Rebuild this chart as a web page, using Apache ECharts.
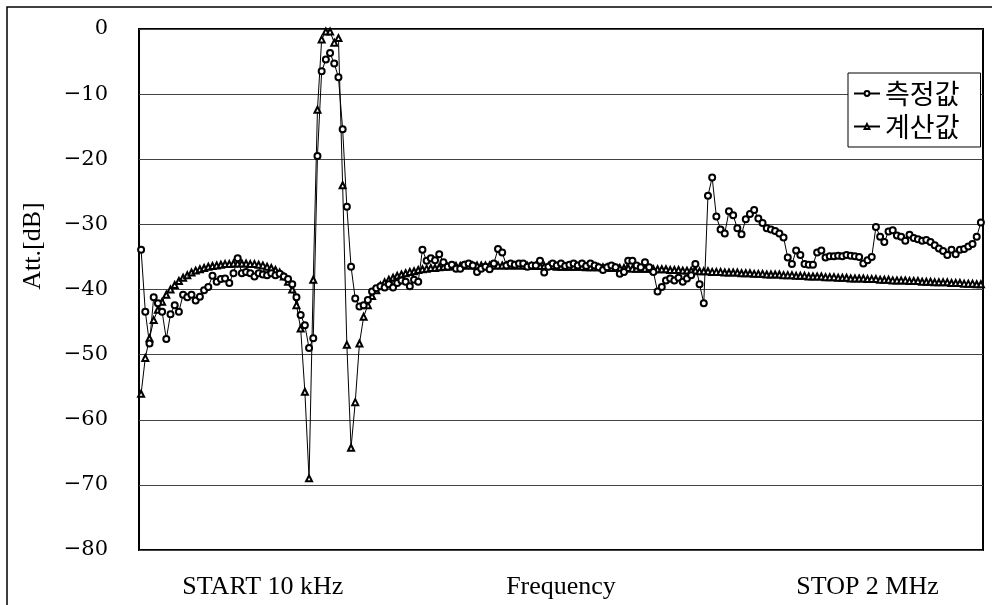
<!DOCTYPE html>
<html>
<head>
<meta charset="utf-8">
<script src="https://cdn.jsdelivr.net/npm/echarts@6/dist/echarts.min.js"></script>
<style>
  html, body { margin: 0; padding: 0; background: #fff; }
  #chart { width: 992px; height: 605px; }
</style>
</head>
<body>
<div id="chart"></div>
<script>
// 201 sweep points, 10 kHz .. 2 MHz
const pointCount = 201
const xLabels = { 29: 'START 10 kHz', 100: 'Frequency', 173: 'STOP 2 MHz' }
const yTicks = [0, -10, -20, -30, -40, -50, -60, -70, -80]
const seriesNames = ['측정값', '계산값']
const yName = 'Att.[dB]'

// 측정값 (measured), dB
const measured = [
  -33.9, -43.4, -48.3, -41.2, -42.1, -43.4, -47.6, -43.8, -42.4, -43.4,
  -40.8, -41.2, -40.8, -41.7, -41.1, -40.1, -39.6, -37.9, -38.8, -38.4,
  -38.3, -39.0, -37.5, -35.2, -37.5, -37.3, -37.5, -38.0, -37.5, -37.7,
  -37.8, -37.5, -37.8, -37.6, -38.0, -38.4, -39.2, -41.2, -43.9, -45.5,
  -49.0, -47.5, -19.5, -6.5, -4.7, -3.7, -5.3, -7.4, -15.4, -27.3,
  -36.5, -41.4, -42.6, -42.4, -41.6, -40.3, -39.8, -39.5, -39.7, -39.2,
  -39.7, -39.0, -38.6, -38.8, -39.5, -38.5, -38.8, -33.9, -35.6, -35.2,
  -35.5, -34.6, -35.8, -36.5, -36.2, -36.8, -36.8, -36.2, -36.0, -36.3,
  -37.3, -36.8, -36.5, -36.9, -36.0, -33.8, -34.3, -36.3, -36.0, -36.2,
  -36.0, -36.0, -36.5, -36.3, -36.3, -35.6, -37.4, -36.5, -36.0, -36.3,
  -36.0, -36.4, -36.2, -36.0, -36.3, -36.0, -36.4, -36.0, -36.3, -36.6,
  -37.0, -36.6, -36.3, -36.6, -37.6, -37.3, -35.6, -35.6, -36.3, -36.6,
  -35.8, -36.6, -37.3, -40.3, -39.6, -38.6, -38.3, -38.6, -38.2, -38.8,
  -38.3, -37.8, -36.1, -39.2, -42.1, -25.6, -22.8, -28.8, -30.8, -31.4,
  -28.0, -28.6, -30.6, -31.5, -29.2, -28.4, -27.8, -29.1, -29.8, -30.6,
  -30.8, -31.0, -31.4, -32.0, -35.1, -36.1, -34.0, -34.7, -36.1, -36.2,
  -36.2, -34.3, -34.0, -35.1, -34.9, -34.9, -34.8, -34.9, -34.7, -34.8,
  -34.9, -35.0, -36.0, -35.5, -35.0, -30.4, -31.9, -32.7, -31.1, -30.9,
  -31.7, -31.9, -32.5, -31.6, -32.1, -32.3, -32.5, -32.4, -32.7, -33.2,
  -33.7, -34.1, -34.7, -33.9, -34.6, -33.9, -33.8, -33.4, -33.0, -31.9,
  -29.7
]

// 계산값 (calculated), dB
const calculated = [
  -56.0, -50.5, -47.5, -44.7, -43.1, -41.9, -40.8, -40.0, -39.3, -38.7,
  -38.2, -37.8, -37.4, -37.1, -36.9, -36.7, -36.5, -36.4, -36.3, -36.2,
  -36.1, -36.1, -36.0, -36.0, -36.0, -36.0, -36.1, -36.1, -36.2, -36.3,
  -36.5, -36.7, -37.0, -37.4, -38.0, -38.8, -40.0, -42.4, -46.0, -55.7,
  -69.0, -38.5, -12.4, -1.6, -0.4, -0.4, -2.1, -1.4, -24.0, -48.5,
  -64.3, -57.3, -48.3, -44.2, -42.4, -41.0, -40.1, -39.4, -38.9, -38.5,
  -38.2, -37.9, -37.7, -37.5, -37.3, -37.2, -37.0, -36.9, -36.8, -36.7,
  -36.7, -36.6, -36.5, -36.5, -36.4, -36.4, -36.4, -36.3, -36.3, -36.3,
  -36.3, -36.3, -36.3, -36.3, -36.3, -36.3, -36.3, -36.3, -36.3, -36.3,
  -36.3, -36.3, -36.4, -36.4, -36.4, -36.4, -36.4, -36.4, -36.4, -36.5,
  -36.5, -36.5, -36.5, -36.5, -36.5, -36.5, -36.6, -36.6, -36.6, -36.6,
  -36.6, -36.6, -36.7, -36.7, -36.7, -36.7, -36.7, -36.8, -36.8, -36.8,
  -36.8, -36.8, -36.9, -36.9, -36.9, -36.9, -37.0, -37.0, -37.0, -37.1,
  -37.1, -37.1, -37.1, -37.2, -37.2, -37.2, -37.3, -37.3, -37.3, -37.4,
  -37.4, -37.4, -37.4, -37.5, -37.5, -37.5, -37.6, -37.6, -37.6, -37.7,
  -37.7, -37.7, -37.7, -37.8, -37.8, -37.8, -37.9, -37.9, -37.9, -38.0,
  -38.0, -38.0, -38.0, -38.1, -38.1, -38.1, -38.2, -38.2, -38.2, -38.3,
  -38.3, -38.3, -38.3, -38.4, -38.4, -38.4, -38.5, -38.5, -38.5, -38.6,
  -38.6, -38.6, -38.6, -38.7, -38.7, -38.7, -38.8, -38.8, -38.8, -38.9,
  -38.9, -38.9, -38.9, -39.0, -39.0, -39.0, -39.1, -39.1, -39.1, -39.2,
  -39.2
]

const categories = []
for (let i = 0; i < pointCount; i++) categories.push(String(i))

const myChart = echarts.init(document.getElementById('chart'))
const option = {
  animation: false,
  backgroundColor: '#fff',
  graphic: [
    { // 바깥 테두리
      type: 'rect',
      shape: { x: 7, y: 7, width: 1000, height: 700 },
      style: { fill: 'none', stroke: '#000', lineWidth: 1.5 },
      silent: true,
      z: -1
    },
    { // y축 제목
      type: 'text',
      x: 33,
      y: 246,
      rotation: Math.PI / 2,
      style: {
        text: yName,
        textAlign: 'center',
        textVerticalAlign: 'middle',
        font: '26px "Liberation Serif"',
        fill: '#000'
      }
    }
  ],
  grid: {
    left: 139,
    top: 29,
    width: 844,
    height: 521,
    show: true,
    borderColor: '#000',
    borderWidth: 2
  },
  legend: {
    orient: 'vertical',
    left: 848,
    top: 73,
    backgroundColor: '#fff',
    borderColor: '#000',
    borderWidth: 1,
    padding: [7, 21, 7, 5],
    itemGap: 6,
    itemWidth: 26,
    itemHeight: 6,
    textStyle: {
      fontFamily: 'Noto Sans CJK KR',
      fontSize: 27,
      color: '#000'
    },
    data: seriesNames
  },
  xAxis: {
    type: 'category',
    data: categories,
    boundaryGap: true,
    axisLine: { show: false },
    axisTick: { show: false },
    splitLine: { show: false },
    axisLabel: {
      interval: function (idx) { return xLabels[idx] !== undefined },
      formatter: function (v) { return xLabels[v] || '' },
      margin: 24,
      fontFamily: 'Liberation Serif',
      fontSize: 26,
      color: '#000'
    }
  },
  yAxis: {
    type: 'value',
    min: yTicks[yTicks.length - 1],
    max: yTicks[0],
    interval: 10,
    axisLine: { show: false },
    axisTick: { show: false },
    splitLine: { lineStyle: { color: '#444', width: 1 } },
    axisLabel: {
      margin: 31,
      fontFamily: 'DejaVu Serif',
      fontSize: 21,
      color: '#000',
      formatter: function (v) { return v < 0 ? '\u2212' + (-v) : String(v) }
    }
  },
  series: [
    {
      name: seriesNames[1],
      type: 'line',
      data: calculated,
      symbol: 'emptyTriangle',
      symbolSize: 6,
      showAllSymbol: true,
      itemStyle: { color: '#000', borderColor: '#000', borderWidth: 1 },
      lineStyle: { color: '#000', width: 1 }
    },
    {
      name: seriesNames[0],
      type: 'line',
      data: measured,
      symbol: 'emptyCircle',
      symbolSize: 6,
      showAllSymbol: true,
      itemStyle: { color: '#000', borderColor: '#000', borderWidth: 1 },
      lineStyle: { color: '#000', width: 1 }
    }
  ]
}
myChart.setOption(option)
</script>
</body>
</html>
